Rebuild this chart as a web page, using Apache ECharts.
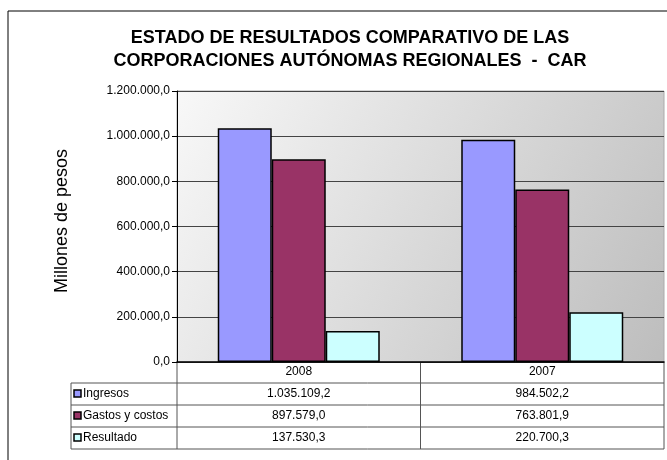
<!DOCTYPE html>
<html>
<head>
<meta charset="utf-8">
<script src="https://cdn.jsdelivr.net/npm/echarts@6/dist/echarts.min.js"></script>
<style>
  html, body { margin: 0; padding: 0; background: #fff; }
  #main { width: 667px; height: 460px; }
</style>
</head>
<body>
<div id="main"></div>
<script>
// datos del grafico
var categories = ['2008', '2007'];
var seriesNames = ['Ingresos', 'Gastos y costos', 'Resultado'];
var ingresos = [1035109.2, 984502.2];
var gastos = [897579.0, 763801.9];
var resultado = [137530.3, 220700.3];
var colors = ['#9999FF', '#993366', '#CCFFFF'];

var FONT = 'Liberation Sans, Arial, sans-serif';

// formato 1.035.109,2
function fmt(v) {
  var parts = v.toFixed(1).split('.');
  var ent = parts[0].replace(/\B(?=(\d{3})+(?!\d))/g, '.');
  return ent + ',' + parts[1];
}

// geometria del area de grafico y de la tabla
var W = 667, H = 460;
var gridLeft = 177, gridRight = 664, gridTop = 91, gridBottom = 362;
var headH = 21, rowH = 22, tableLeft = 71;

var allData = [ingresos, gastos, resultado];
var colW = (gridRight - gridLeft) / categories.length;

var graphics = [];
// marco exterior
graphics.push({
  type: 'rect', shape: { x: 8, y: 11, width: 700, height: 500 },
  style: { fill: 'none', stroke: '#000', lineWidth: 1 }, silent: true
});
// titulo del eje y
graphics.push({
  type: 'text', x: 62, y: 221, rotation: Math.PI / 2,
  style: { text: 'Millones de pesos', fontSize: 18, fontFamily: FONT, fill: '#000', align: 'center', verticalAlign: 'middle' },
  silent: true
});

var rowTop = gridBottom + headH;
var tableBottom = rowTop + rowH * seriesNames.length;
// lineas horizontales de la tabla
for (var i = 0; i <= seriesNames.length; i++) {
  var y = rowTop + rowH * i;
  graphics.push({
    type: 'line', shape: { x1: tableLeft, y1: y, x2: gridRight, y2: y },
    style: { stroke: '#555', lineWidth: 1 }, silent: true
  });
}
// lineas verticales
graphics.push({
  type: 'line', shape: { x1: tableLeft, y1: rowTop, x2: tableLeft, y2: tableBottom },
  style: { stroke: '#555', lineWidth: 1 }, silent: true
});
for (var c = 0; c <= categories.length; c++) {
  var x = gridLeft + colW * c;
  graphics.push({
    type: 'line', shape: { x1: x, y1: gridBottom, x2: x, y2: tableBottom },
    style: { stroke: '#555', lineWidth: 1 }, silent: true
  });
}
// filas: leyenda + valores
seriesNames.forEach(function (name, i) {
  var cy = rowTop + rowH * i + rowH / 2;
  graphics.push({
    type: 'rect', shape: { x: tableLeft + 3, y: cy - 4, width: 7, height: 7 },
    style: { fill: colors[i], stroke: '#000', lineWidth: 1.5 }, silent: true
  });
  graphics.push({
    type: 'text', x: tableLeft + 12, y: cy,
    style: { text: name, fontSize: 12, fontFamily: FONT, fill: '#000', verticalAlign: 'middle', align: 'left' },
    silent: true
  });
  allData[i].forEach(function (v, j) {
    graphics.push({
      type: 'text', x: gridLeft + colW * j + colW / 2, y: cy,
      style: { text: fmt(v), fontSize: 12, fontFamily: FONT, fill: '#000', verticalAlign: 'middle', align: 'center' },
      silent: true
    });
  });
});

var myChart = echarts.init(document.getElementById('main'), null, { renderer: 'canvas' });
var option = {
  animation: false,
  backgroundColor: '#fff',
  textStyle: { fontFamily: FONT },
  title: {
    text: 'ESTADO DE RESULTADOS COMPARATIVO DE LAS\nCORPORACIONES AUTÓNOMAS REGIONALES  -  CAR',
    left: 345, top: 22, textAlign: 'center',
    textStyle: { fontSize: 18, fontWeight: 'bold', fontFamily: FONT, color: '#000', lineHeight: 23 }
  },
  grid: {
    left: gridLeft, right: W - gridRight, top: gridTop, bottom: H - gridBottom,
    show: true,
    backgroundColor: new echarts.graphic.LinearGradient(0, 0, 1, 1, [
      { offset: 0, color: '#f8f8f8' },
      { offset: 1, color: '#bdbdbd' }
    ]),
    borderColor: '#aaa', borderWidth: 1
  },
  xAxis: {
    type: 'category',
    data: categories,
    axisLine: { lineStyle: { color: '#000', width: 1.5 } },
    axisTick: { show: false },
    axisLabel: { fontSize: 12, color: '#000', margin: 4, fontFamily: FONT }
  },
  yAxis: {
    type: 'value',
    min: 0, max: 1200000, interval: 200000,
    axisLine: { show: true, lineStyle: { color: '#000', width: 1 } },
    axisTick: { show: true, length: 5, lineStyle: { color: '#000' } },
    axisLabel: { fontSize: 12, color: '#000', margin: 7, fontFamily: FONT, formatter: function (v) { return fmt(v); } },
    splitLine: { lineStyle: { color: '#444', width: 1 } }
  },
  series: seriesNames.map(function (name, i) {
    return {
      name: name,
      type: 'bar',
      data: allData[i],
      barWidth: 54,
      barGap: '0%',
      itemStyle: { color: colors[i], borderColor: '#000', borderWidth: 1.5 }
    };
  }),
  graphic: graphics
};
myChart.setOption(option);
</script>
</body>
</html>
